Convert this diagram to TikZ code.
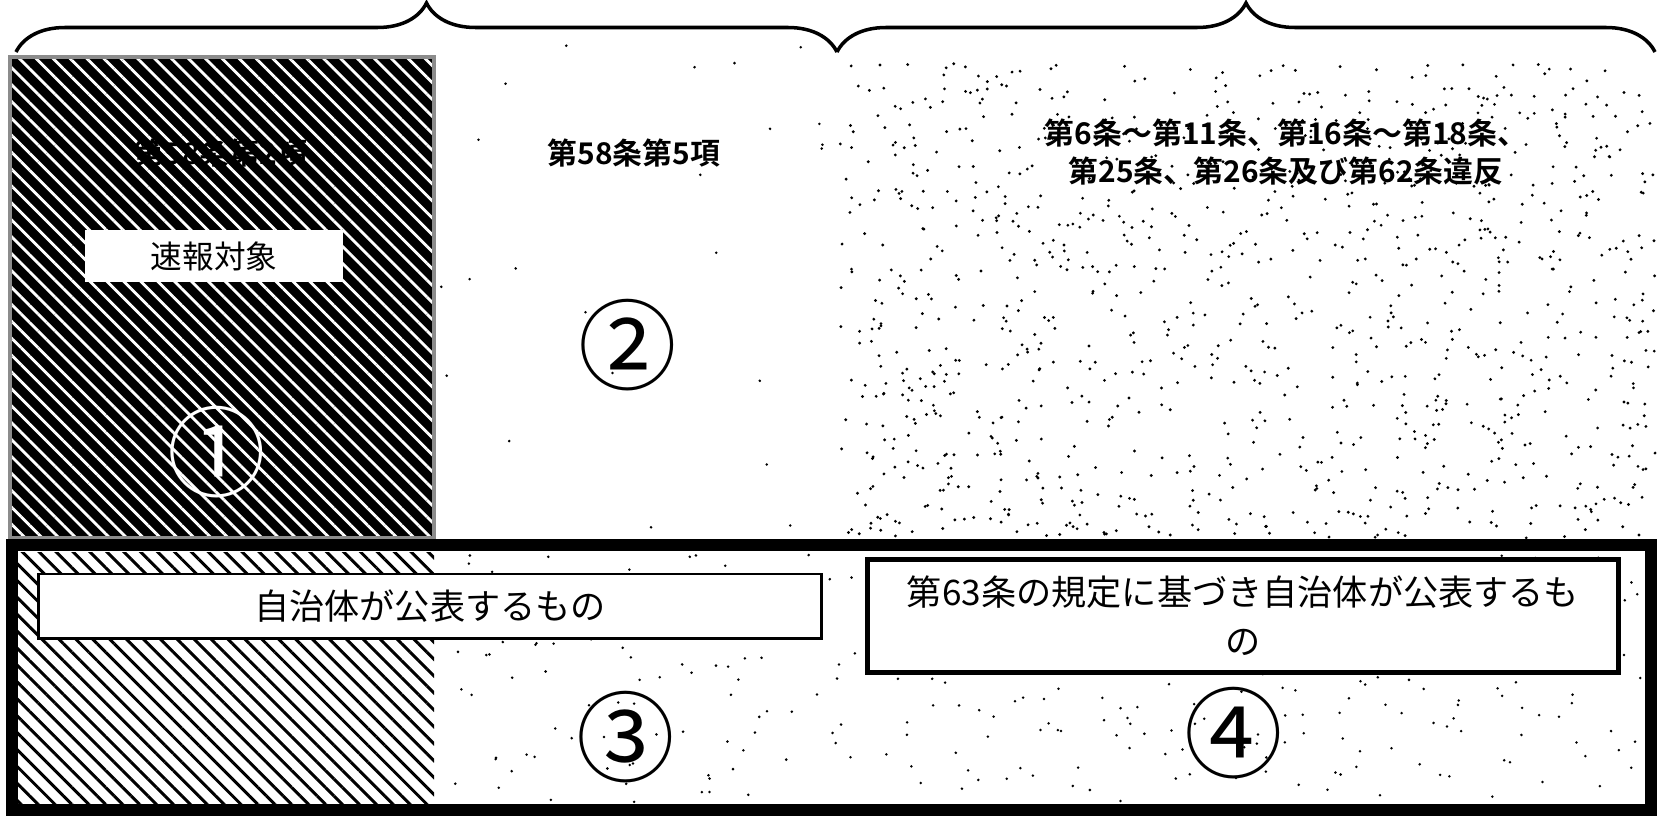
\documentclass[tikz,border=0pt]{standalone}
\usepackage{fontspec}
\setmainfont{Noto Sans CJK JP}[BoldFont=Noto Sans CJK JP Bold]
\usetikzlibrary{positioning,patterns.meta,decorations.pathreplacing,calc}
\tikzset{
  labelbox/.style={draw=black,fill=white,inner sep=0pt,font=\fontsize{10}{14}\selectfont,align=center},
  circled/.style={inner sep=0pt,font=\fontsize{28}{28}\selectfont},
  ruletext/.style={inner sep=0pt,font=\fontsize{8.5}{10.8}\selectfont\bfseries,align=center},
  darkhatch/.style={preaction={fill=black},pattern={Lines[angle=-45,distance=3.4pt,line width=0.8pt]},pattern color=white},
  lighthatch/.style={preaction={fill=white},pattern={Lines[angle=-45,distance=3.4pt,line width=0.85pt]},pattern color=black},
  grouping/.style={decorate,decoration={brace,amplitude=4.9mm},line width=1pt},
}
\begin{document}
\begin{tikzpicture}[x=0.01cm,y=-0.01cm]
\useasboundingbox (0,0) rectangle (1657,817);
% stipple
\pgfmathsetseed{42}
\foreach \i in {1,...,1100} {\fill ({840+815*rnd},{63+475*rnd}) circle (0.45pt);}
\foreach \i in {1,...,320} {\fill ({440+1205*rnd},{555+248*rnd}) circle (0.4pt);}
\foreach \i in {1,...,25} {\fill ({440+395*rnd},{30+500*rnd}) circle (0.4pt);}
% braces
\coordinate (b1l) at (16,52);
\coordinate (b1r) at (837,52);
\coordinate (b2r) at (1655,52);
\draw[grouping] (b1l) -- (b1r);
\draw[grouping] (b1r) -- (b2r);
% column 1
\draw[darkhatch,draw=black!45,line width=1.3pt] (10,57) rectangle (434,538);
\node[ruletext] (art2) at (221,153) {第58条第2項};
\node[labelbox,draw=none,minimum width=2.57cm,minimum height=0.52cm,font=\fontsize{9}{9}\selectfont] (flash) at (214,256) {速報対象};
\node[circled,text=white] (n1) at (217,452) {①};
% column 2 and 3
\node[ruletext] (art5) at (634,153) {第58条第5項};
\node[circled] (n2) at (628,345) {②};
\node[ruletext] (viol) at (1286,152) {第6条～第11条、第16条～第18条、\\第25条、第26条及び第62条違反};
% bottom band
\fill[lighthatch] (17,552) rectangle (434,805);
\draw[line width=3.5pt] (12,545) rectangle (1651,810);
\node[labelbox,line width=0.85pt,minimum width=7.83cm,minimum height=0.64cm] (local) at (430,606) {自治体が公表するもの};
\node[labelbox,line width=1.3pt,minimum width=7.51cm,minimum height=1.13cm] (art63) at (1243,616) {第63条の規定に基づき自治体が公表するも\\の};
\node[circled] (n3) at (626,737) {③};
\node[circled] (n4) at (1234,733) {④};
\end{tikzpicture}
\end{document}
